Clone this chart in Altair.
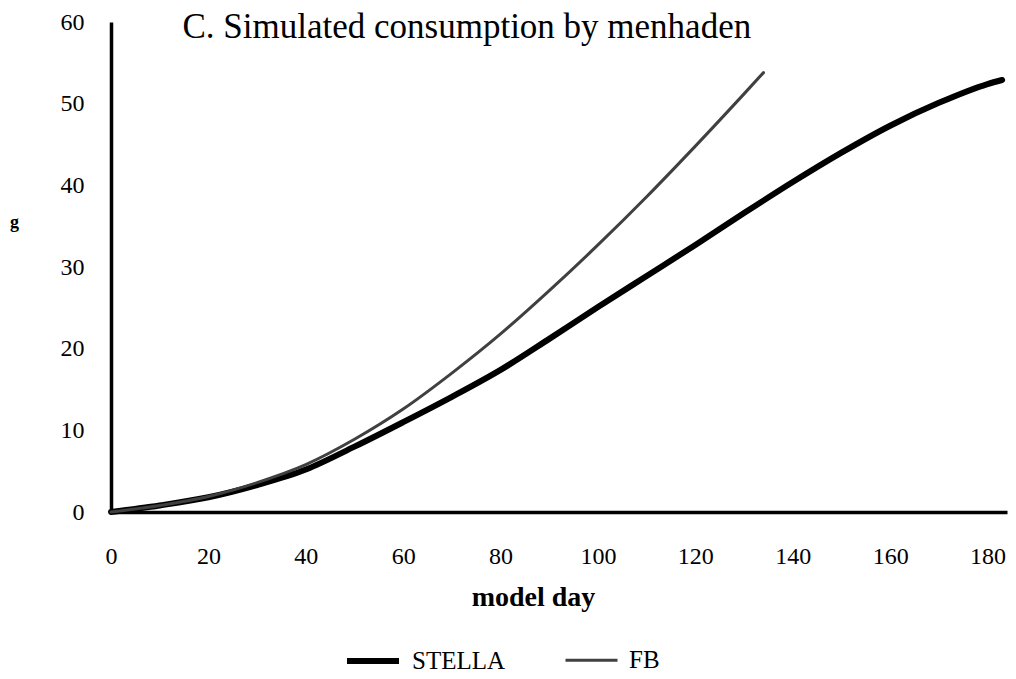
import altair as alt
import pandas as pd

# ---- data ----
stella_day = [0, 10, 20, 30, 40, 50, 60, 70, 80, 90, 100, 110, 120, 130, 140, 150, 160, 170, 180, 183]
stella_g = [0, 0.8, 1.8, 3.3, 5.2, 8.0, 11.0, 14.1, 17.4, 21.2, 25.1, 28.9, 32.7, 36.6, 40.4, 44.0, 47.3, 50.1, 52.4, 52.9]

fb_day = [0, 10, 20, 30, 40, 50, 60, 70, 80, 90, 100, 110, 120, 130, 134]
fb_g = [0, 0.8, 1.9, 3.6, 5.8, 8.9, 12.6, 17.0, 21.8, 27.1, 32.7, 38.6, 44.8, 51.2, 53.8]

series_names = ["STELLA", "FB"]
series_colors = ["#000000", "#404040"]
series_widths = [6, 3]

x_ticks = [0, 20, 40, 60, 80, 100, 120, 140, 160, 180]
y_ticks = [0, 10, 20, 30, 40, 50, 60]

df = pd.concat([
    pd.DataFrame({"day": stella_day, "g": stella_g, "series": "STELLA"}),
    pd.DataFrame({"day": fb_day, "g": fb_g, "series": "FB"}),
], ignore_index=True)

FONT = "Liberation Serif"

legend_opts = dict(title=None, orient="none", direction="horizontal",
                   legendX=233, legendY=610, symbolType="stroke",
                   symbolSize=2704, labelFont=FONT, labelFontSize=25,
                   labelColor="black", labelOffset=10, columnPadding=53,
                   padding=0)

color = alt.Color("series:N",
                  scale=alt.Scale(domain=series_names, range=series_colors),
                  legend=alt.Legend(**legend_opts))
width_enc = alt.StrokeWidth("series:N",
                            scale=alt.Scale(domain=series_names, range=series_widths),
                            legend=alt.Legend(**legend_opts))

x = alt.X("day:Q", scale=alt.Scale(domain=[0, 184], nice=False, zero=False),
          axis=alt.Axis(values=x_ticks, title="model day", titleFont=FONT, titleFontSize=28,
                        titleFontWeight="bold", titleColor="black", titleX=422, titleY=93,
                        titleAlign="center", titleBaseline="alphabetic",
                        labelPadding=32, labelBaseline="top", labelFlush=False))
y = alt.Y("g:Q", scale=alt.Scale(domain=[0, 60], nice=False),
          axis=alt.Axis(values=y_ticks, title="g", titleFont=FONT, titleFontSize=18,
                        titleFontWeight="bold", titleColor="black", titleAngle=0,
                        titleX=-97, titleY=200, titleAlign="center", titleBaseline="middle",
                        labelPadding=27, labelFlush=False))

base = alt.Chart(df).mark_line(interpolate="monotone", strokeCap="round", strokeJoin="round").encode(
    x=x, y=y, color=color, strokeWidth=width_enc
)

stella = base.transform_filter(alt.datum.series == "STELLA")
fb = base.transform_filter(alt.datum.series == "FB")

chart = alt.layer(stella, fb).properties(
    width=896, height=490,
    background="white",
    title=alt.TitleParams("C. Simulated consumption by menhaden", font=FONT, fontSize=35,
                          fontWeight="normal", color="black", anchor="start", dx=173,
                          baseline="alphabetic", offset=-63),
    autosize=alt.AutoSizeParams(type="none"),
    padding={"left": 103, "top": 14, "right": 1, "bottom": 159},
).configure_view(stroke=None).configure_axis(
    grid=False, ticks=False, tickSize=0, domainColor="black", domainWidth=3.5,
    labelFont=FONT, labelFontSize=24, labelColor="black",
)

chart.save("out.html", embed_options={"renderer": "svg", "actions": False})
